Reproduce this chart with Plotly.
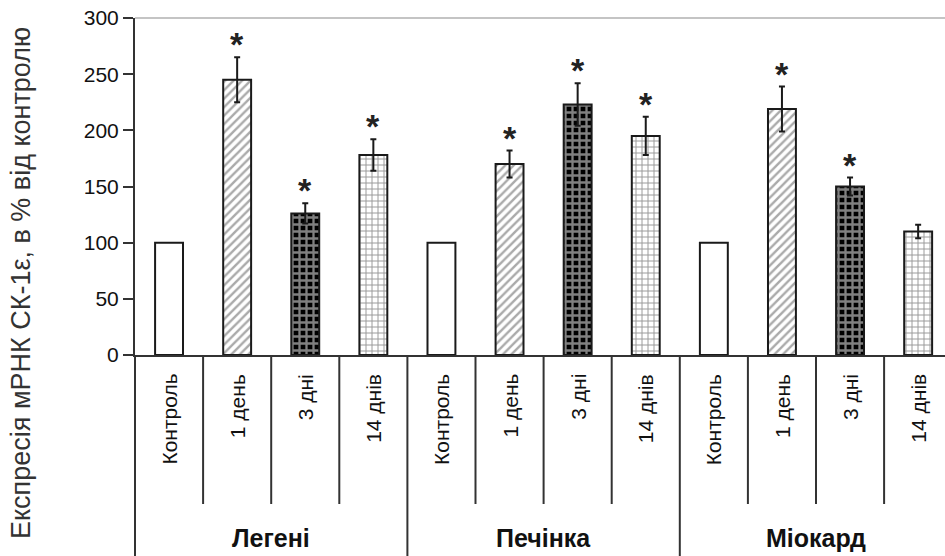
import plotly.graph_objects as go

# Data: CK-1ε mRNA expression, % of control
groups = ["Легені", "Печінка", "Міокард"]
periods = ["Контроль", "1 день", "3 дні", "14 днів"]
lungs = [100, 245, 126, 178]
liver = [100, 170, 223, 195]
myocard = [100, 219, 150, 110]
lungs_err = [0, 20, 9, 14]
liver_err = [0, 12, 19, 17]
myocard_err = [0, 20, 8, 6]
significant = [
    [False, True, True, True],
    [False, True, True, True],
    [False, True, True, False],
]
y_ticks = [0, 50, 100, 150, 200, 250, 300]
y_title = "Експресія мРНК СК-1ε, в % від контролю"

values = [lungs, liver, myocard]
errors = [lungs_err, liver_err, myocard_err]

W, H = 945, 556
M_L, M_R, M_T, M_B = 135, 0, 18, 201
PLOT_H = H - M_T - M_B
CAT_W = 68.1
n_cat = len(groups) * len(periods)
x_max = -0.5 + (W - M_L - M_R) / CAT_W

FONT = "Liberation Sans, Arial, sans-serif"


def py(px):
    """Pixel row (from top) to paper y."""
    return (H - M_B - px) / PLOT_H


styles = [
    dict(shape="", bgcolor="white", fgcolor="white"),
    dict(shape="/", bgcolor="white", fgcolor="#555555", size=6, solidity=0.4),
    dict(shape="+", bgcolor="#000000", fgcolor="white", size=7, solidity=0.55),
    dict(shape="+", bgcolor="white", fgcolor="#333333", size=6, solidity=0.3),
]

fig = go.Figure()

for p, period in enumerate(periods):
    xs, ys, es = [], [], []
    for g in range(len(groups)):
        xs.append(g * len(periods) + p)
        ys.append(values[g][p])
        es.append(errors[g][p])
    fig.add_trace(go.Bar(
        x=xs, y=ys, width=0.41, name=period,
        marker=dict(color="white", line=dict(color="#1a1a1a", width=2),
                    pattern=styles[p]),
        error_y=dict(type="data", array=es, visible=p > 0,
                     color="#1a1a1a", thickness=2, width=3),
        showlegend=False,
    ))

annotations = []
shapes = []

# significance marks
for g in range(len(groups)):
    for p in range(len(periods)):
        if significant[g][p]:
            annotations.append(dict(
                x=g * len(periods) + p, y=values[g][p] + errors[g][p],
                xref="x", yref="y", text="<b>*</b>", showarrow=False,
                yanchor="middle", yshift=13,
                font=dict(family=FONT, size=34, color="#222"),
            ))

# category labels and separators under the axis
for i in range(n_cat):
    annotations.append(dict(
        x=i, y=py(372), xref="x", yref="paper", text=periods[i % len(periods)],
        textangle=-90, showarrow=False, yanchor="top", xanchor="center",
        font=dict(family=FONT, size=21, color="#111"),
    ))
for i in range(1, n_cat + 1):
    edge = i - 0.5
    long_line = i % len(periods) == 0
    shapes.append(dict(
        type="line", xref="x", yref="paper", x0=edge, x1=edge,
        y0=0, y1=py(H) if long_line else py(504),
        line=dict(color="#333", width=2),
    ))

for g, name in enumerate(groups):
    annotations.append(dict(
        x=g * len(periods) + 1.5, y=py(538), xref="x", yref="paper",
        text="<b>" + name + "</b>", showarrow=False,
        yanchor="middle", xanchor="center",
        font=dict(family=FONT, size=25, color="#111"),
    ))

# y axis extended down through the label area, light top border
shapes.append(dict(type="line", xref="paper", yref="paper", x0=0, x1=0,
                   y0=0, y1=py(H), line=dict(color="#333", width=2)))
shapes.append(dict(type="line", xref="paper", yref="paper", x0=0, x1=1,
                   y0=1, y1=1, line=dict(color="#c4c4c4", width=2)))

annotations.append(dict(
    x=0, y=py(283), xref="paper", yref="paper", xshift=-114,
    text=y_title, textangle=-90, showarrow=False,
    yanchor="middle", xanchor="center",
    font=dict(family=FONT, size=27, color="#333"),
))

fig.update_layout(
    width=W, height=H,
    margin=dict(l=M_L, r=M_R, t=M_T, b=M_B, pad=0),
    plot_bgcolor="white", paper_bgcolor="white",
    barmode="overlay",
    xaxis=dict(range=[-0.5, x_max], showticklabels=False, ticks="",
               showgrid=False, zeroline=False, showline=True,
               linecolor="#333", linewidth=2, fixedrange=True),
    yaxis=dict(range=[0, 300], tickvals=y_ticks, ticks="outside",
               ticklen=10, tickwidth=1.5, tickcolor="#333",
               showgrid=False, zeroline=False, showline=True,
               linecolor="#333", linewidth=2,
               tickfont=dict(family=FONT, size=21, color="#111")),
    annotations=annotations,
    shapes=shapes,
)

fig.write_html("out.html")
